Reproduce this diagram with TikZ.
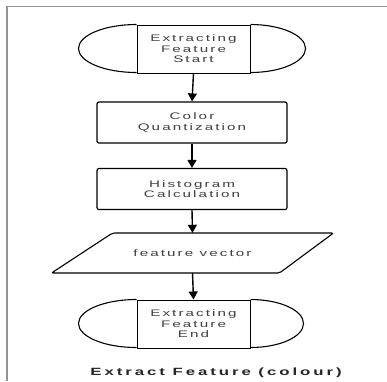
\documentclass[tikz,border=0pt]{standalone}
\usepackage{fontspec}
\setmainfont{Liberation Sans}
\newfontfamily\diafont[FakeStretch=1.6,LetterSpace=22]{Liberation Sans}
\newfontfamily\capfont[FakeStretch=1.6,LetterSpace=28]{Liberation Sans}
\usetikzlibrary{arrows.meta}
\begin{document}
\begin{tikzpicture}[x=1pt,y=1pt,
  txt/.style={font=\diafont\fontsize{9.5}{10.5}\selectfont, text=black!75, align=center, inner sep=0pt},
  procbox/.style={txt, draw=black, line width=1.2pt, rounded corners=2pt, minimum width=190, minimum height=41},
  termbox/.style={txt, draw=black, line width=1pt, minimum width=113, minimum height=48},
  flow/.style={line width=1.4pt, -{Triangle[width=9pt,length=8pt]}},
  outline/.style={line width=1.1pt}
]
\useasboundingbox (0,0) rectangle (387,-381);
\draw[gray!85, line width=1.6pt] (387,-6.5) -- (7,-6.5) -- (7,-381);

% start terminator
\node[termbox] (s) at (193.5,-49) {Extracting\\Feature\\Start};
\draw[outline] (s.north west) arc[start angle=90,end angle=270,x radius=58pt,y radius=24pt];
\draw[outline] (s.north east) arc[start angle=90,end angle=-90,x radius=55pt,y radius=24pt];

\node[procbox] (q) at (192,-122.5) {Color\\Quantization};
\node[procbox] (h) at (192,-189) {Histogram\\Calculation};

% data parallelogram
\node[txt, minimum height=40, minimum width=120] (f) at (192.5,-253) {feature vector};
\draw[outline, rounded corners=2pt] ([shift={(-141,-20)}]f.center) -- ([shift={(87,-20)}]f.center)
  -- ([shift={(141,20)}]f.center) -- ([shift={(-80,20)}]f.center) -- cycle;

% end terminator
\node[termbox] (e) at (193.5,-324) {Extracting\\Feature\\End};
\draw[outline] (e.north west) arc[start angle=90,end angle=270,x radius=58pt,y radius=24pt];
\draw[outline] (e.north east) arc[start angle=90,end angle=-90,x radius=53pt,y radius=24pt];

\draw[flow] (s.south) -- (q.north);
\draw[flow] (q.south) -- (h.north);
\draw[flow] (h.south) -- (f.north);
\draw[flow] (f.south) -- (e.north);

\node[font=\capfont\bfseries\fontsize{10.5}{12}\selectfont, text=black!85, inner sep=0pt] (cap) at (216,-373) {Extract Feature (colour)};
\end{tikzpicture}
\end{document}
